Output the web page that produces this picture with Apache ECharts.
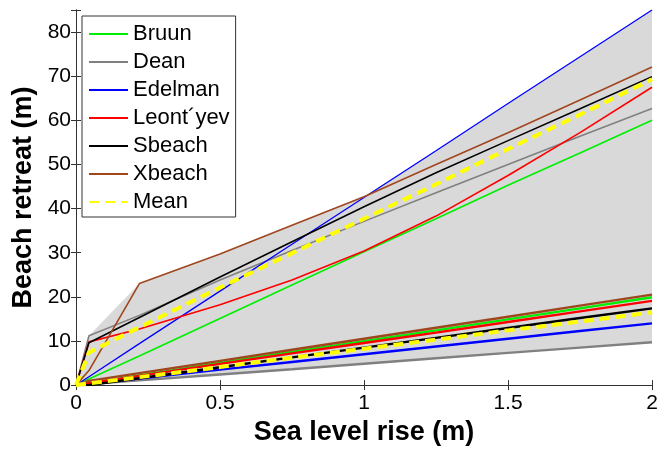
<!DOCTYPE html>
<html>
<head>
<meta charset="utf-8">
<title>Beach retreat</title>
<script src="https://cdn.jsdelivr.net/npm/echarts@6/dist/echarts.min.js"></script>
<style>
  html, body { margin: 0; padding: 0; background: #fff; }
  #chart { width: 668px; height: 451px; }
</style>
</head>
<body>
<div id="chart"></div>
<script>
// sea level rise (m), shared by every curve
var seaLevel = [0, 0.045, 0.22, 0.5, 0.75, 1, 1.25, 1.5, 1.75, 2];

// upper group of curves (m)
var bruunHigh   = [0, 1.4, 6.6, 15.1, 22.7, 30.2, 37.7, 45.3, 52.6, 60];
var deanHigh    = [0, 11.2, 15.8, 23.8, 30.5, 37.1, 43.6, 50.0, 56.4, 62.7];
var edelmanHigh = [0, 1.9, 9.4, 21.3, 31.9, 42.5, 53.1, 63.8, 74.4, 85];
var leontHigh   = [0, 9.8, 12.7, 18.2, 23.8, 30.4, 38.3, 47.5, 57.2, 67.5];
var sbeachHigh  = [0, 9.6, 15.3, 24.5, 32.5, 40.4, 48.1, 55.4, 62.6, 69.9];
var xbeachHigh  = [0, 3.3, 23.0, 29.7, 36.2, 42.7, 50.0, 57.2, 64.6, 72.1];
var meanHigh    = [0, 7.4, 13.1, 22.1, 29.9, 37.7, 45.5, 53.5, 61.3, 69.3];

// lower group of curves (m)
var bruunLow   = [0, 0.45, 2.2, 5.0, 7.5, 9.95, 12.4, 14.9, 17.4, 19.9];
var deanLow    = [0, 0.22, 1.07, 2.4, 3.6, 4.85, 6.1, 7.3, 8.5, 9.7];
var edelmanLow = [0, 0.3, 1.5, 3.5, 5.25, 7.0, 8.75, 10.5, 12.25, 14.0];
var leontLow   = [0, 0.43, 2.1, 4.8, 7.2, 9.55, 11.9, 14.3, 16.7, 19.1];
var sbeachLow  = [0, 0, 1.56, 4.05, 6.27, 8.5, 10.7, 12.95, 15.2, 17.4];
var xbeachLow  = [0, 0.95, 2.7, 5.5, 8.0, 10.5, 13.0, 15.5, 18.0, 20.5];
var meanLow    = [0, 0.37, 1.8, 4.1, 6.2, 8.25, 10.3, 12.4, 14.4, 16.5];

var names  = ['Bruun', 'Dean', 'Edelman', 'Leont\u00b4yev', 'Sbeach', 'Xbeach', 'Mean'];
var colors = ['#00ee00', '#808080', '#0000ff', '#ff0000', '#000000', '#a0461e', '#ffff00'];
var highs  = [bruunHigh, deanHigh, edelmanHigh, leontHigh, sbeachHigh, xbeachHigh, meanHigh];
var lows   = [bruunLow, deanLow, edelmanLow, leontLow, sbeachLow, xbeachLow, meanLow];

var FONT = 'Liberation Sans, Arial, Helvetica, sans-serif';

function pairs(ys) {
  var out = [];
  for (var i = 0; i < seaLevel.length; i++) out.push([seaLevel[i], ys[i]]);
  return out;
}

// shaded range: top of the upper curves down to the bottom of the lower ones
var envTop = [], envBottom = [];
for (var i = 0; i < seaLevel.length; i++) {
  var hi = -Infinity, lo = Infinity;
  for (var k = 0; k < 6; k++) {
    hi = Math.max(hi, highs[k][i]);
    lo = Math.min(lo, lows[k][i]);
  }
  envTop.push(hi);
  envBottom.push(lo);
}

var series = [{
  type: 'custom',
  silent: true,
  z: 1,
  data: [[0, 0]],
  renderItem: function (params, api) {
    var pts = [];
    for (var i = 0; i < seaLevel.length; i++) pts.push(api.coord([seaLevel[i], envTop[i]]));
    for (var j = seaLevel.length - 1; j >= 0; j--) pts.push(api.coord([seaLevel[j], envBottom[j]]));
    return { type: 'polygon', shape: { points: pts }, style: { fill: '#d9d9d9', stroke: null } };
  }
}];

for (var s = 0; s < names.length; s++) {
  var isMean = s === 6;
  series.push({
    name: names[s], type: 'line', data: pairs(highs[s]),
    symbol: 'none', z: 3 + s,
    lineStyle: { color: colors[s], width: isMean ? 4 : (s === 2 ? 1.3 : 1.6), type: isMean ? [10, 6] : 'solid' },
    itemStyle: { color: colors[s] }
  });
  series.push({
    name: names[s], type: 'line', data: pairs(lows[s]),
    symbol: 'none', z: 3 + s,
    lineStyle: { color: colors[s], width: isMean ? 4 : 2.4, type: isMean ? [10, 6] : 'solid' },
    itemStyle: { color: colors[s] }
  });
}

var chart = echarts.init(document.getElementById('chart'));
chart.setOption({
  animation: false,
  backgroundColor: '#fff',
  grid: { left: 76, right: 16, top: 10, bottom: 56, containLabel: false },
  legend: {
    data: names, orient: 'vertical', left: 82, top: 16,
    selectedMode: false,
    backgroundColor: '#fff', borderColor: '#333', borderWidth: 1,
    padding: [7, 6, 4, 6], itemGap: 6, itemWidth: 39, itemHeight: 14,
    itemStyle: { opacity: 0 },
    textStyle: { fontFamily: FONT, fontSize: 22, lineHeight: 22, color: '#000' }
  },
  xAxis: [{
    type: 'value', min: 0, max: 2, interval: 0.5,
    name: 'Sea level rise (m)', nameLocation: 'middle', nameGap: 31,
    nameTextStyle: { fontFamily: FONT, fontSize: 27, fontWeight: 'bold', color: '#000' },
    axisLine: { show: true, lineStyle: { color: '#333', width: 1 } },
    axisTick: { show: true, inside: true, length: 5, lineStyle: { color: '#333' } },
    axisLabel: { fontFamily: FONT, fontSize: 21, color: '#000', margin: 8 },
    splitLine: { show: false }
  }, {
    type: 'value', min: 0, max: 2, interval: 0.5, position: 'top',
    axisLine: { show: true, lineStyle: { color: '#333', width: 1 } },
    axisTick: { show: true, inside: true, length: 5, lineStyle: { color: '#333' } },
    axisLabel: { show: false }, splitLine: { show: false }
  }],
  yAxis: [{
    type: 'value', min: 0, max: 85, interval: 10,
    name: 'Beach retreat (m)', nameLocation: 'middle', nameGap: 36,
    nameTextStyle: { fontFamily: FONT, fontSize: 27, fontWeight: 'bold', color: '#000' },
    axisLine: { show: true, lineStyle: { color: '#333', width: 1 } },
    axisTick: { show: true, inside: true, length: 5, lineStyle: { color: '#333' } },
    axisLabel: {
      fontFamily: FONT, fontSize: 21, color: '#000', margin: 5,
      formatter: function (v) { return v > 80 ? '' : v; }
    },
    splitLine: { show: false }
  }, {
    type: 'value', min: 0, max: 85, interval: 10, position: 'right',
    axisLine: { show: true, lineStyle: { color: '#333', width: 1 } },
    axisTick: { show: true, inside: true, length: 5, lineStyle: { color: '#333' } },
    axisLabel: { show: false }, splitLine: { show: false }
  }],
  series: series
});
</script>
</body>
</html>
